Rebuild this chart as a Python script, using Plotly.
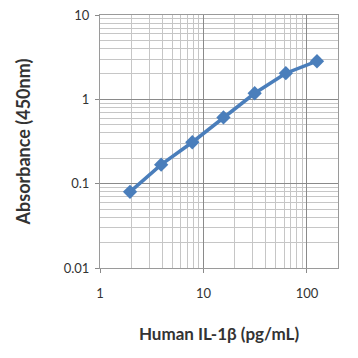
import plotly.graph_objects as go

conc = [1.95, 3.9, 7.8, 15.6, 31.25, 62.5, 125]
absorb = [0.080, 0.168, 0.31, 0.61, 1.18, 2.04, 2.83]
x_ticks = [1, 10, 100]
x_tick_text = ["1", "10", "100"]
y_ticks = [0.01, 0.1, 1, 10]
y_tick_text = ["0.01", "0.1", "1", "10"]

blue = "#4a7ebb"
font = "Lato, Open Sans, sans-serif"

fig = go.Figure()
fig.add_trace(go.Scatter(
    x=conc, y=absorb, mode="lines+markers",
    line=dict(color=blue, width=3.5),
    marker=dict(symbol="diamond", size=11, color=blue),
    showlegend=False,
))

fig.update_xaxes(
    type="log", range=[0, 2.30], automargin=False,
    tickvals=x_ticks, ticktext=x_tick_text,
    showgrid=True, gridcolor="#8a8a8a", gridwidth=1,
    minor=dict(dtick="D1", showgrid=True, gridcolor="#c6c6c6", gridwidth=1, ticks=""),
    ticks="outside", ticklen=4, tickcolor="#8a8a8a",
    ticklabelstandoff=9, ticklabeloverflow="allow",
    showline=True, linecolor="#9a9a9a", linewidth=1, mirror=True,
    tickfont=dict(family=font, size=13, color="#333333"),
    title=dict(text="Human IL-1β (pg/mL)", font=dict(family=font, size=17, color="#333333", weight="bold"), standoff=28),
    zeroline=False,
)
fig.update_yaxes(
    type="log", range=[-2, 1], automargin=False,
    tickvals=y_ticks, ticktext=y_tick_text,
    showgrid=True, gridcolor="#8a8a8a", gridwidth=1,
    minor=dict(dtick="D1", showgrid=True, gridcolor="#c6c6c6", gridwidth=1, ticks=""),
    ticks="outside", ticklen=4, tickcolor="#8a8a8a",
    ticklabelstandoff=3, ticklabeloverflow="allow",
    showline=True, linecolor="#9a9a9a", linewidth=1, mirror=True,
    tickfont=dict(family=font, size=13, color="#333333"),
    title=dict(text="Absorbance (450nm)", font=dict(family=font, size=18, color="#333333", weight="bold"), standoff=28),
    zeroline=False,
)

fig.update_layout(
    width=350, height=350,
    margin=dict(l=92, r=20, t=7, b=90),
    paper_bgcolor="white", plot_bgcolor="white",
    font=dict(family=font),
)

fig.write_html("out.html")
